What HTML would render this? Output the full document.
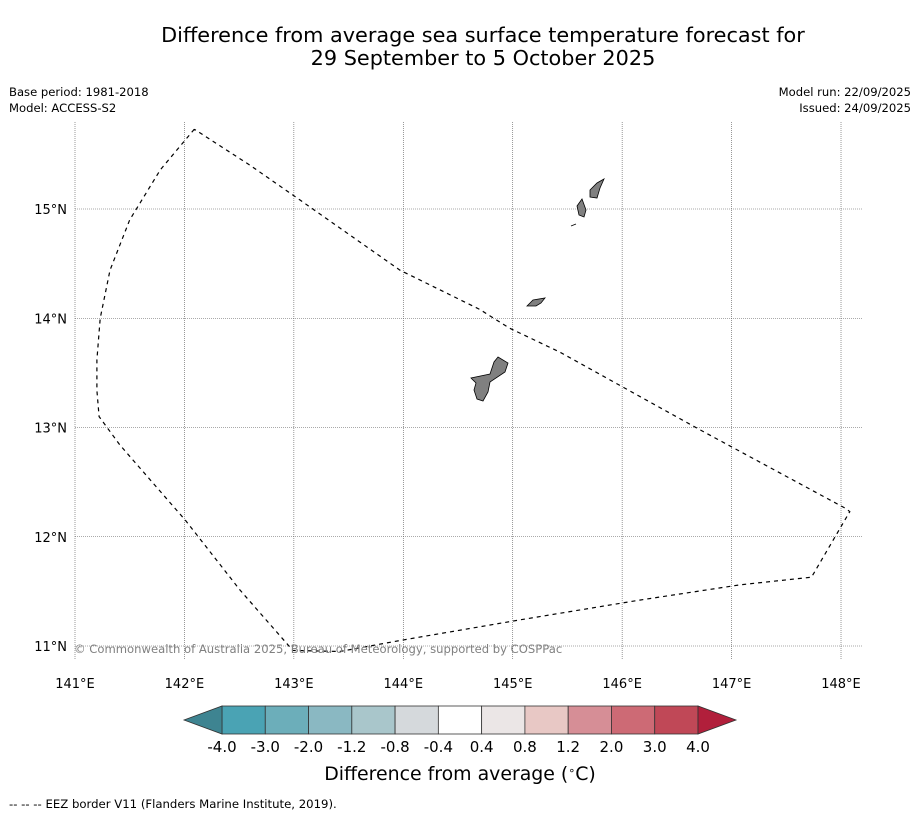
<!DOCTYPE html>
<html><head><meta charset="utf-8"><style>
body{margin:0;background:#fff;font-family:"Liberation Sans","DejaVu Sans",sans-serif}
svg text{font-family:"DejaVu Sans","Liberation Sans",sans-serif}
</style></head><body>
<svg id="c" width="919" height="816" viewBox="0 0 919 816" xmlns="http://www.w3.org/2000/svg">
<text x="483" y="42" font-size="20.8" text-anchor="middle">Difference from average sea surface temperature forecast for</text>
<text x="483" y="65" font-size="20.8" text-anchor="middle">29 September to 5 October 2025</text>
<text x="9" y="96" font-size="11.6">Base period: 1981-2018</text>
<text x="9" y="112" font-size="11.6">Model: ACCESS-S2</text>
<text x="911" y="96" font-size="11.6" text-anchor="end">Model run: 22/09/2025</text>
<text x="911" y="112" font-size="11.6" text-anchor="end">Issued: 24/09/2025</text>
<g id="grid"></g>
<g id="land" fill="#808080" stroke="#000" stroke-width="0.8">
<path d="M498,357 L508,363 L505,372 L490,382 L488,392 L483,401 L477,399 L474,390 L476,383 L471,378 L490,374 L494,362Z"/>
<path d="M527,306 L533,300 L545,298 L541,303 L536,306Z"/>
<path d="M577,206 L582,199 L586,210 L584,217 L579,215Z"/>
<path d="M590,190 L597,183 L604,179 L600,188 L597,198 L590,197Z"/>
<path d="M571,226 L576,224"/>
</g>
<path id="eez" fill="none" stroke="#000" stroke-width="1.2" stroke-dasharray="4,4"/>
<text x="74" y="653" font-size="11.6" fill="#808080">© Commonwealth of Australia 2025, Bureau of Meteorology, supported by COSPPac</text>
<g id="cbar"></g>
<text x="460" y="780" font-size="18.9" text-anchor="middle">Difference from average (<tspan baseline-shift="super" font-size="11">∘</tspan>C)</text>
<text x="9" y="808" font-size="11.7">--  --  -- EEZ border V11 (Flanders Marine Institute, 2019).</text>
</svg>
<script>
const lonTicks=[141,142,143,144,145,146,147,148];
const latTicks=[11,12,13,14,15];
const eezLon=[142.09,141.78,141.50,141.32,141.23,141.20,141.20,141.22,141.41,142.01,142.51,142.99,143.42,143.97,145.07,146.16,147.08,147.73,148.08,148.04,146.71,145.43,144.97,144.70,143.97,143.06,142.60,142.09];
const eezLat=[15.73,15.36,14.90,14.44,14.00,13.62,13.34,13.10,12.84,12.15,11.51,10.96,10.95,11.05,11.24,11.42,11.56,11.63,12.23,12.26,12.98,13.69,13.91,14.08,14.44,15.08,15.40,15.73];
const cbLevels=["-4.0","-3.0","-2.0","-1.2","-0.8","-0.4","0.4","0.8","1.2","2.0","3.0","4.0"];
const cbColors=["#4aa3b4","#6caeba","#8ab8c2","#a9c6cb","#d5d9dc","#ffffff","#ebe6e6","#e8c8c5","#d68e96","#cd6a75","#c04857"];
const NS="http://www.w3.org/2000/svg";
const X=lon=>75+(lon-141)*109.43, Y=lat=>209-(lat-15)*109.25;
function mk(t,a,p){const e=document.createElementNS(NS,t);for(const k in a)e.setAttribute(k,a[k]);p.appendChild(e);return e;}
const g=document.getElementById('grid');
lonTicks.forEach(v=>{
 const l=mk('line',{x1:X(v),x2:X(v),y1:122,y2:660,stroke:'#555','stroke-width':0.6,'stroke-dasharray':'1,1'},g);
 
 
 const t=mk('text',{x:X(v),y:688,'font-size':13,'text-anchor':'middle'},g);t.textContent=v+'°E';
 
 
});
latTicks.forEach(v=>{
 const l=mk('line',{x1:75,x2:862,y1:Y(v),y2:Y(v),stroke:'#555','stroke-width':0.6,'stroke-dasharray':'1,1'},g);
 
 
 const t=mk('text',{x:67,y:Y(v)+5,'font-size':13,'text-anchor':'end'},g);t.textContent=v+'°N';
 
 
});
document.getElementById('eez').setAttribute('d',eezLon.map((v,i)=>(i?'L':'M')+X(v).toFixed(1)+','+Y(eezLat[i]).toFixed(1)).join(' '));
const cb=document.getElementById('cbar');
const x0=222,x1=698,w=(x1-x0)/cbColors.length;
cbColors.forEach((c,i)=>{
 const r=mk('rect',{x:x0+i*w,y:706,width:w,height:28,fill:c,stroke:'#333','stroke-width':0.8},cb);
 
 
});
const lt=mk('polygon',{points:`${x0},706 ${x0},734 184,720`,fill:'#3e8491',stroke:'#333','stroke-width':0.8},cb);


const rt=mk('polygon',{points:`${x1},706 ${x1},734 736,720`,fill:'#b11f3b',stroke:'#333','stroke-width':0.8},cb);


cbLevels.forEach((s,i)=>{
 const t=mk('text',{x:x0+i*w,y:752,'font-size':15,'text-anchor':'middle'},cb);t.textContent=s;
 
 
});
</script>
</body></html>
